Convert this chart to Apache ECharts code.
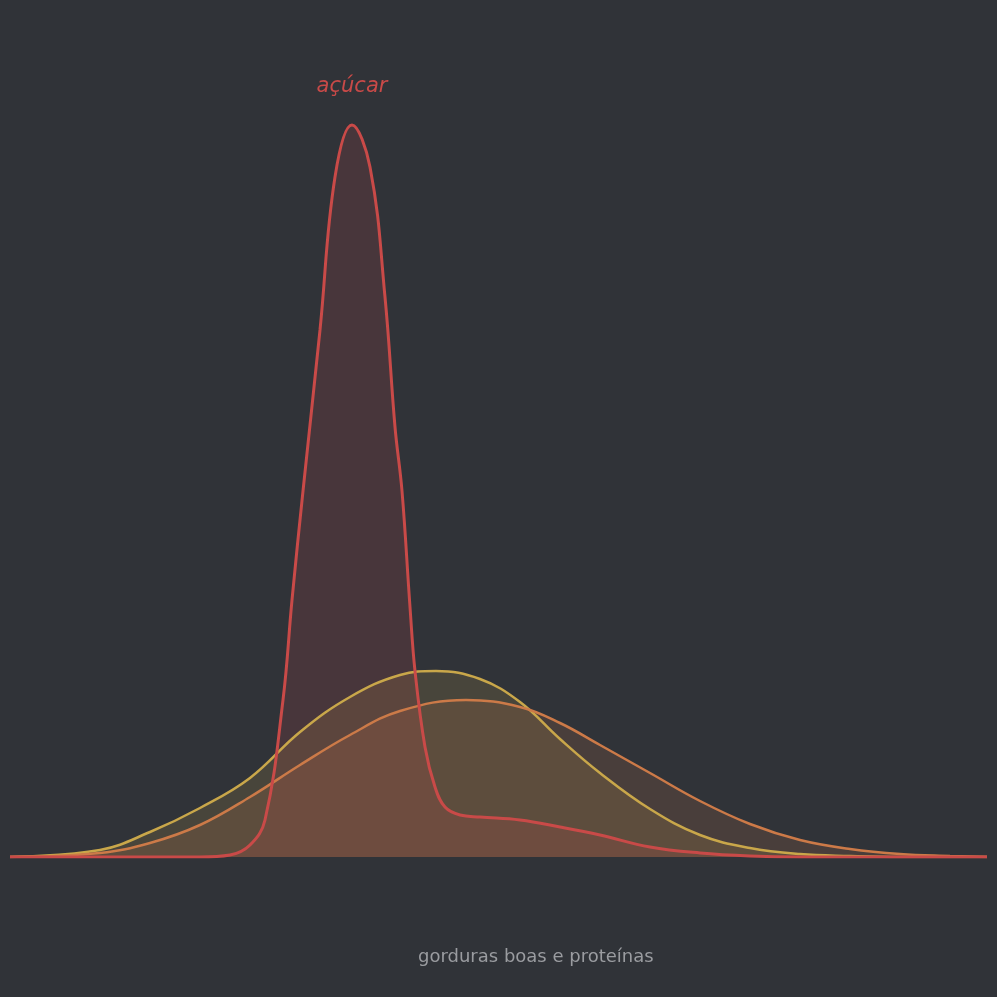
<!DOCTYPE html>
<html lang="pt">
<head>
<meta charset="UTF-8">
<title>açúcar</title>
<script src="https://cdn.jsdelivr.net/npm/echarts@6/dist/echarts.min.js"></script>
<style>
  html, body { margin: 0; background: #303338; }
  #main { width: 997px; height: 997px; }
</style>
</head>
<body>
<div id="main"></div>
<script>
// x positions and curve heights
var yellowX = [10, 100, 150, 200, 250, 300, 350, 400, 436, 480, 520, 560, 600, 650, 700, 750, 800, 850, 900, 987];
var yellowY = [0, 7, 25, 49, 79, 125, 160, 182, 186, 178, 155, 118, 84, 48, 22, 9, 3, 1, 0, 0];

var orangeX = [10, 100, 150, 200, 250, 300, 350, 400, 466, 520, 560, 600, 650, 700, 750, 800, 850, 900, 950, 987];
var orangeY = [0, 4, 14, 32, 60, 92, 122, 146, 157, 150, 134, 112, 84, 56, 33, 17, 8, 3, 1, 0];

var redX = [10, 200, 230, 250, 265, 283, 292, 303, 320, 335, 352, 370, 385, 395, 402, 410, 415, 425, 435, 445, 460, 480, 520, 560, 600, 650, 700, 750, 800, 987];
var redY = [0, 0, 2, 12, 37, 157, 257, 366, 527, 680, 732, 690, 560, 430, 366, 250, 186, 110, 70, 50, 42, 40, 37, 30, 22, 10, 4, 1, 0, 0];

function pairs(xs, ys) {
    return xs.map(function (x, i) { return [x, ys[i]]; });
}

function curve(name, color, xs, ys, width) {
    return {
        name: name,
        type: 'line',
        smooth: 0.4,
        symbol: 'none',
        data: pairs(xs, ys),
        lineStyle: { color: color, width: width },
        areaStyle: { color: color, opacity: 0.16 }
    };
}

var chart = echarts.init(document.getElementById('main'));
var redSeries = curve('açúcar', '#c94a48', redX, redY, 3);
redSeries.markPoint = {
    symbolSize: 0,
    data: [{ type: 'max' }],
    label: {
        show: true,
        formatter: 'açúcar',
        position: 'top',
        distance: 28,
        color: '#c94a48',
        fontSize: 21,
        fontStyle: 'italic',
        fontFamily: 'DejaVu Sans'
    }
};

chart.setOption({
    backgroundColor: '#303338',
    animation: false,
    grid: { left: 10, right: 10, top: 57, bottom: 140 },
    xAxis: { type: 'value', min: 10, max: 987, show: false },
    yAxis: { type: 'value', min: 0, max: 800, show: false },
    graphic: [{
        type: 'text',
        left: 418,
        top: 948,
        style: { text: 'gorduras boas e proteínas', fill: '#9a9ca0', fontSize: 18, fontFamily: 'DejaVu Sans' }
    }],
    series: [
        curve('gorduras boas', '#c9a74a', yellowX, yellowY, 2.5),
        curve('proteínas', '#cc7a48', orangeX, orangeY, 2.5),
        redSeries
    ]
});
</script>
</body>
</html>
